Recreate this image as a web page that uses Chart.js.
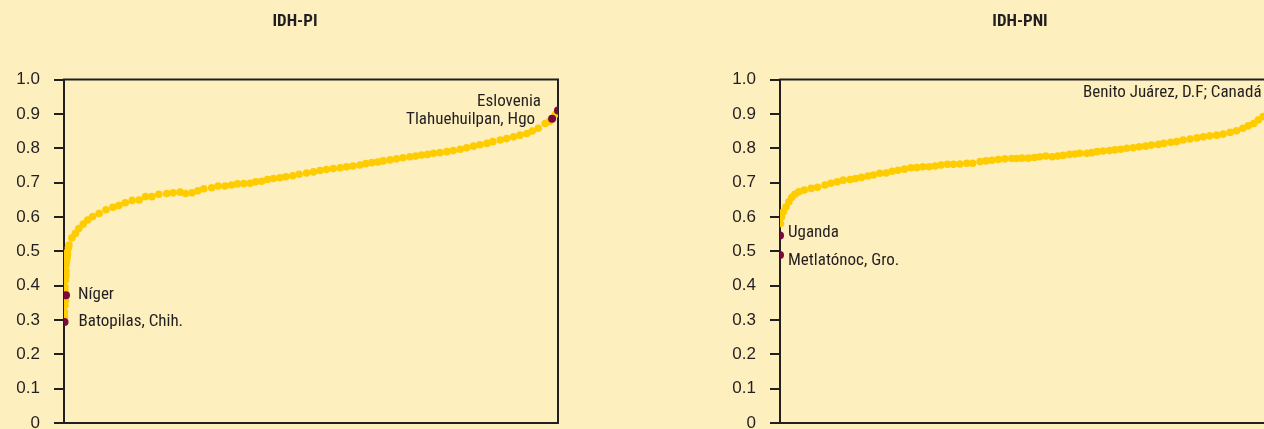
<!DOCTYPE html>
<html lang="es">
<head>
    <meta charset="UTF-8">
    <style>
        html, body {
            margin: 0;
            padding: 0;
            width: 1264px;
            height: 429px;
            overflow: hidden;
            background: #fdefbe;
        }
        #wrap { position: relative; width: 1264px; height: 429px; overflow: hidden; }
        canvas { position: absolute; top: 0; }
        #leftChart { left: 0; }
        #rightChart { left: 716px; }
    </style>
    <script src="https://cdn.jsdelivr.net/npm/chart.js"></script>
</head>
<body>
    <div id="wrap">
        <canvas id="leftChart" width="590" height="470"></canvas>
        <canvas id="rightChart" width="608" height="470"></canvas>
    </div>

    <script>
        // IDH-PI: rank position (%) and index value
        const piX = [0.1, 0.1, 0.2, 0.3, 0.2, 0.2, 0.3, 0.4, 0.4, 0.4, 0.5, 0.6, 0.7, 0.7, 0.9, 1.0,
            1.6, 2.3, 3.0, 3.9, 4.8, 5.8, 7.1, 8.5, 9.9, 11.1, 12.4, 13.8, 15.2, 16.5, 17.8, 19.2,
            20.8, 22.1, 23.5, 24.6, 25.9, 27.1, 28.3, 29.9, 31.2, 32.6, 33.9, 35.1, 36.4, 37.7, 38.8,
            40.0, 41.2, 42.4, 43.7, 44.9, 46.3, 47.6, 49.1, 50.5, 51.8, 53.1, 54.5, 55.9, 57.2, 58.5,
            59.9, 61.1, 62.3, 63.5, 64.6, 66.0, 67.3, 68.6, 70.0, 71.2, 72.4, 73.6, 74.8, 76.1, 77.5,
            78.8, 80.2, 81.5, 82.9, 84.2, 85.6, 86.8, 88.3, 89.6, 91.0, 92.3, 93.7, 94.8, 96.0, 97.4,
            98.3, 99.5];
        const piY = [0.310, 0.323, 0.343, 0.357, 0.383, 0.396, 0.416, 0.430, 0.442, 0.459, 0.470, 0.479, 0.490, 0.498, 0.510, 0.518,
            0.539, 0.552, 0.566, 0.579, 0.591, 0.601, 0.610, 0.621, 0.628, 0.633, 0.641, 0.648, 0.649, 0.659, 0.659, 0.666,
            0.668, 0.670, 0.672, 0.668, 0.670, 0.676, 0.682, 0.685, 0.690, 0.690, 0.693, 0.696, 0.697, 0.698, 0.702,
            0.704, 0.709, 0.712, 0.714, 0.717, 0.720, 0.724, 0.728, 0.731, 0.735, 0.738, 0.741, 0.743, 0.746, 0.748,
            0.751, 0.755, 0.758, 0.760, 0.763, 0.766, 0.769, 0.772, 0.775, 0.777, 0.780, 0.782, 0.785, 0.787, 0.790,
            0.793, 0.797, 0.801, 0.806, 0.810, 0.814, 0.819, 0.824, 0.828, 0.833, 0.838, 0.843, 0.850, 0.858, 0.872,
            0.878, 0.899];
        const piMarkNames = ['Batopilas, Chih.', 'Níger', 'Tlahuehuilpan, Hgo', 'Eslovenia'];
        const piMarkX = [0.1, 0.4, 98.8, 100];
        const piMarkY = [0.294, 0.372, 0.886, 0.910];

        // IDH-PNI
        const pniX = [0.1, 0.3, 0.7, 1.2, 1.8, 2.4, 3.0, 3.8, 4.9, 6.3, 7.6, 9.1, 10.3, 11.6, 12.8, 14.2,
            15.3, 16.5, 17.8, 18.9, 20.2, 21.5, 22.7, 23.9, 25.2, 26.5, 27.7, 28.9, 30.2, 31.4, 32.6,
            33.9, 35.1, 36.4, 37.8, 39.0, 40.5, 41.7, 42.9, 44.2, 45.5, 46.9, 47.9, 49.0, 50.3, 51.5,
            52.6, 53.8, 55.1, 56.2, 57.3, 58.6, 59.7, 60.7, 62.1, 63.1, 64.2, 65.4, 66.7, 67.8, 69.0,
            70.2, 71.5, 72.7, 74.0, 75.2, 76.6, 77.7, 79.1, 80.3, 81.6, 83.0, 84.4, 85.7, 87.0, 88.4,
            89.7, 91.1, 92.4, 93.7, 94.8, 95.9, 96.8, 97.8, 98.8];
        const pniY = [0.581, 0.600, 0.615, 0.629, 0.644, 0.657, 0.666, 0.673, 0.678, 0.683, 0.686, 0.693, 0.698, 0.702, 0.707, 0.709,
            0.712, 0.715, 0.719, 0.722, 0.727, 0.728, 0.733, 0.736, 0.739, 0.743, 0.744, 0.746, 0.746, 0.748, 0.751,
            0.753, 0.753, 0.754, 0.756, 0.756, 0.761, 0.763, 0.765, 0.767, 0.769, 0.770, 0.770, 0.771, 0.771, 0.773,
            0.775, 0.777, 0.775, 0.777, 0.779, 0.782, 0.783, 0.785, 0.785, 0.787, 0.790, 0.792, 0.793, 0.795, 0.797,
            0.800, 0.801, 0.804, 0.806, 0.809, 0.811, 0.814, 0.817, 0.819, 0.824, 0.827, 0.830, 0.833, 0.836, 0.838,
            0.841, 0.846, 0.851, 0.858, 0.865, 0.872, 0.882, 0.892, 0.905];
        const pniMarkNames = ['Metlatónoc, Gro.', 'Uganda', 'Benito Juárez, D.F; Canadá'];
        const pniMarkX = [0, 0, 100];
        const pniMarkY = [0.489, 0.546, 0.940];

        const yTicks = [0, 0.1, 0.2, 0.3, 0.4, 0.5, 0.6, 0.7, 0.8, 0.9, 1.0];

        const ink = '#231f20';
        const yellow = '#ffcc00';
        const maroon = '#7a0a3a';
        const labelFont = '17px "Liberation Sans Narrow", "Roboto Condensed", Roboto, Arial, sans-serif';
        const titleFont = 'bold 17px "Liberation Sans Narrow", "Roboto Condensed", Arial, sans-serif';

        function pairs(xs, ys) {
            return xs.map((x, i) => ({ x: x, y: ys[i] }));
        }

        // frame round the plot area, drawn under the points
        const framePlugin = {
            id: 'frame',
            beforeDatasetsDraw(chart) {
                const a = chart.chartArea;
                const c = chart.ctx;
                c.save();
                c.strokeStyle = ink;
                c.lineWidth = 2;
                c.strokeRect(a.left, a.top, a.right - a.left, a.bottom - a.top);
                c.restore();
            }
        };

        // heading centred on the whole canvas
        const headPlugin = {
            id: 'head',
            afterDraw(chart, args, opts) {
                const c = chart.ctx;
                c.save();
                c.font = titleFont;
                c.fillStyle = ink;
                c.textAlign = 'center';
                c.textBaseline = 'middle';
                c.fillText(opts.text, chart.width / 2, 22);
                c.restore();
            }
        };

        // names next to the highlighted points
        const namesPlugin = {
            id: 'names',
            afterDatasetsDraw(chart, args, opts) {
                const c = chart.ctx;
                const xs = chart.scales.x, ys = chart.scales.y;
                c.save();
                c.font = labelFont;
                c.fillStyle = ink;
                c.textBaseline = 'middle';
                opts.items.forEach(it => {
                    c.textAlign = it.align;
                    const px = xs.getPixelForValue(it.x) + it.dx;
                    const py = ys.getPixelForValue(it.y) + it.dy;
                    c.fillText(it.text, px, py);
                });
                c.restore();
            }
        };

        function makeChart(id, title, xs, ys, mx, my, labelItems, padRight) {
            return new Chart(document.getElementById(id), {
                type: 'scatter',
                data: {
                    datasets: [
                        {
                            data: pairs(mx, my),
                            backgroundColor: maroon,
                            pointRadius: 4,
                            borderWidth: 0
                        },
                        {
                            data: pairs(xs, ys),
                            backgroundColor: yellow,
                            pointRadius: 3.8,
                            borderWidth: 0
                        }
                    ]
                },
                options: {
                    responsive: false,
                    animation: false,
                    events: [],
                    layout: { padding: { left: 0, right: padRight, top: 79.5, bottom: 47 } },
                    plugins: {
                        legend: { display: false },
                        tooltip: { enabled: false },
                        title: { display: false },
                        head: { text: title },
                        names: { items: labelItems }
                    },
                    scales: {
                        x: { type: 'linear', display: false, min: 0, max: 100 },
                        y: {
                            min: 0,
                            max: 1,
                            afterFit(scale) { scale.width = 64; },
                            afterBuildTicks(scale) { scale.ticks = yTicks.map(v => ({ value: v })); },
                            border: { display: false },
                            grid: {
                                drawOnChartArea: false,
                                drawTicks: true,
                                tickLength: 10,
                                color: ink,
                                lineWidth: 2
                            },
                            ticks: {
                                color: ink,
                                padding: 14,
                                font: { family: '"Liberation Sans", Arial, sans-serif', size: 17 },
                                callback: v => v === 0 ? '0' : v.toFixed(1)
                            }
                        }
                    }
                },
                plugins: [framePlugin, namesPlugin, headPlugin]
            });
        }

        makeChart('leftChart', 'IDH-PI', piX, piY, piMarkX, piMarkY, [
            { text: piMarkNames[0], x: piMarkX[0], y: piMarkY[0], align: 'left', dx: 14, dy: 0 },
            { text: piMarkNames[1], x: piMarkX[1], y: piMarkY[1], align: 'left', dx: 12, dy: 0 },
            { text: piMarkNames[2], x: piMarkX[2], y: piMarkY[2], align: 'right', dx: -17, dy: 1 },
            { text: piMarkNames[3], x: piMarkX[3], y: piMarkY[3], align: 'right', dx: -17, dy: -9 }
        ], 32);

        makeChart('rightChart', 'IDH-PNI', pniX, pniY, pniMarkX, pniMarkY, [
            { text: pniMarkNames[0], x: pniMarkX[0], y: pniMarkY[0], align: 'left', dx: 8, dy: 6 },
            { text: pniMarkNames[1], x: pniMarkX[1], y: pniMarkY[1], align: 'left', dx: 8, dy: -3 },
            { text: pniMarkNames[2], x: pniMarkX[2], y: pniMarkY[2], align: 'left', dx: -191, dy: -7 }
        ], 50);
    </script>
</body>
</html>
